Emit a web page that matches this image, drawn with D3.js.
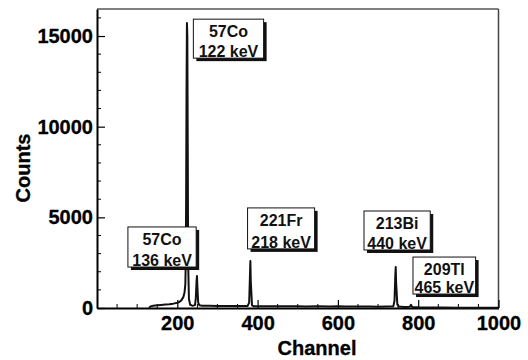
<!DOCTYPE html>
<html>
<head>
<meta charset="utf-8">
<script src="https://cdn.jsdelivr.net/npm/d3@7"></script>
<style>
  body { margin: 0; background: #fff; }
  text { font-family: "Liberation Sans", Arial, Helvetica, sans-serif; font-weight: bold; }
</style>
</head>
<body>
<div id="chart"></div>
<script>
// spectrum: [channel, counts]
const channels = [130, 133, 140, 150, 160, 170, 180, 190, 200, 205, 210, 215, 218, 220, 221, 222, 223, 224, 225, 226, 227, 229, 232, 236, 240, 244, 246, 248, 249, 250, 252, 255, 262, 280, 300, 320, 340, 360, 375, 379, 381, 382, 383, 386, 390, 400, 420, 450, 480, 500, 520, 550, 580, 600, 620, 650, 680, 700, 720, 738, 741, 743, 744, 745, 748, 752, 765, 779, 782, 785, 800, 830, 860, 900, 950, 1000];
const counts   = [0, 90, 120, 150, 170, 190, 210, 240, 290, 330, 420, 600, 850, 1300, 2500, 6000, 12000, 15720, 15000, 9000, 2500, 500, 180, 140, 130, 160, 500, 1500, 1765, 1200, 300, 150, 130, 120, 115, 110, 115, 105, 110, 300, 1800, 2590, 1500, 150, 100, 95, 90, 95, 100, 90, 85, 90, 85, 90, 80, 85, 80, 75, 80, 90, 400, 1800, 2260, 1400, 200, 80, 60, 70, 180, 60, 40, 30, 25, 20, 15, 10];

// annotation boxes (two text lines each), corners given in channel / counts
const labelTop    = ["57Co", "57Co", "221Fr", "213Bi", "209Tl"];
const labelBottom = ["122 keV", "136 keV", "218 keV", "440 keV", "465 keV"];
const boxX0 = [240, 77, 375, 665, 787];
const boxX1 = [415, 247, 542, 830, 943];
const boxY0 = [15930, 4470, 5520, 5350, 2810];
const boxY1 = [13780, 2260, 3260, 3200, 770];

const xTicks = [200, 400, 600, 800, 1000];
const yTicks = [0, 5000, 10000, 15000];

const width = 528, height = 360;
const margin = { left: 97, right: 30, top: 9, bottom: 52 };

const svg = d3.select('#chart').append('svg')
  .attr('width', width)
  .attr('height', height);

const x = d3.scaleLinear().domain([0, 1000]).range([margin.left, width - margin.right + 0.5]);
const y = d3.scaleLinear().domain([0, 16490]).range([height - margin.bottom, margin.top]);

// frame: grey top/right, black axes
svg.append('line')
  .attr('x1', x(0)).attr('x2', x(1000))
  .attr('y1', y(16490)).attr('y2', y(16490))
  .attr('stroke', '#555').attr('stroke-width', 1.5);
svg.append('line')
  .attr('x1', x(1000)).attr('x2', x(1000))
  .attr('y1', y(16490)).attr('y2', y(0))
  .attr('stroke', '#444').attr('stroke-width', 1.5);

// minor ticks (inside the frame)
const minorX = d3.range(0, 1001, 50).filter(v => v % 200 !== 0);
svg.append('g').selectAll('line')
  .data(minorX)
  .join('line')
  .attr('x1', d => x(d)).attr('x2', d => x(d))
  .attr('y1', y(0)).attr('y2', y(0) - 4)
  .attr('stroke', '#000').attr('stroke-width', 1);

const minorY = d3.range(0, 16001, 1000).filter(v => v % 5000 !== 0);
svg.append('g').selectAll('line')
  .data(minorY)
  .join('line')
  .attr('x1', x(0)).attr('x2', x(0) + 4)
  .attr('y1', d => y(d)).attr('y2', d => y(d))
  .attr('stroke', '#000').attr('stroke-width', 1);

// x axis
const xAxis = svg.append('g')
  .attr('transform', `translate(0,${y(0)})`)
  .call(d3.axisBottom(x).tickValues(xTicks).tickSizeInner(-8).tickSizeOuter(0).tickPadding(8).tickFormat(d3.format('d')));
xAxis.select('.domain').attr('stroke-width', 2);
xAxis.selectAll('.tick line').attr('stroke-width', 1.2);
xAxis.selectAll('.tick text')
  .attr('font-size', 20).attr('font-family', null).attr('fill', '#000')
  .attr('stroke', '#000').attr('stroke-width', 0.3);

// y axis
const yAxis = svg.append('g')
  .attr('transform', `translate(${x(0)},0)`)
  .call(d3.axisLeft(y).tickValues(yTicks).tickSizeInner(-8).tickSizeOuter(0).tickPadding(4).tickFormat(d3.format('d')));
yAxis.select('.domain').attr('stroke-width', 2);
yAxis.selectAll('.tick line').attr('stroke-width', 1.2);
yAxis.selectAll('.tick text')
  .attr('font-size', 20).attr('font-family', null).attr('fill', '#000')
  .attr('stroke', '#000').attr('stroke-width', 0.3);

// spectrum
const line = d3.line()
  .x((d, i) => x(channels[i]))
  .y(d => y(d));

svg.append('path')
  .datum(counts)
  .attr('fill', 'none')
  .attr('stroke', '#111')
  .attr('stroke-width', 2)
  .attr('stroke-linejoin', 'round')
  .attr('d', line);

// axis titles
svg.append('text')
  .attr('x', 317).attr('y', 355)
  .attr('text-anchor', 'middle')
  .attr('font-size', 20)
  .attr('fill', '#000')
  .attr('stroke', '#000').attr('stroke-width', 0.3)
  .text('Channel');

svg.append('text')
  .attr('transform', 'translate(30,168) rotate(-90)')
  .attr('text-anchor', 'middle')
  .attr('font-size', 20)
  .attr('fill', '#000')
  .attr('stroke', '#000').attr('stroke-width', 0.3)
  .text('Counts');

// label boxes with shadow
const boxes = svg.append('g').selectAll('g')
  .data(labelTop.map((t, i) => ({ t, b: labelBottom[i], x0: x(boxX0[i]), x1: x(boxX1[i]), y0: y(boxY0[i]), y1: y(boxY1[i]) })))
  .join('g');

boxes.append('rect')
  .attr('x', d => d.x0 + 3).attr('y', d => d.y0 + 3)
  .attr('width', d => d.x1 - d.x0).attr('height', d => d.y1 - d.y0)
  .attr('fill', '#111');

boxes.append('rect')
  .attr('x', d => d.x0).attr('y', d => d.y0)
  .attr('width', d => d.x1 - d.x0).attr('height', d => d.y1 - d.y0)
  .attr('fill', '#fff')
  .attr('stroke', '#111').attr('stroke-width', 1);

boxes.append('text')
  .attr('x', d => (d.x0 + d.x1) / 2).attr('y', d => d.y0 + 18)
  .attr('text-anchor', 'middle')
  .attr('font-size', 16)
  .attr('fill', '#111')
  .text(d => d.t);

boxes.append('text')
  .attr('x', d => (d.x0 + d.x1) / 2).attr('y', d => d.y1 - 1)
  .attr('text-anchor', 'middle')
  .attr('font-size', 16)
  .attr('fill', '#111')
  .text(d => d.b);
</script>
</body>
</html>
